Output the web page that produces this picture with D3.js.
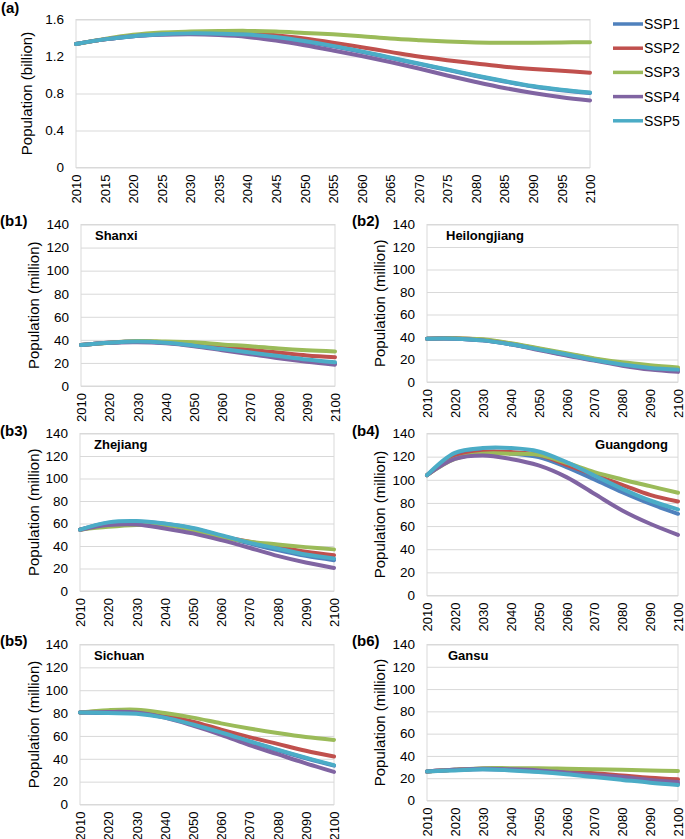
<!DOCTYPE html>
<html>
<head>
<meta charset="utf-8">
<style>
  body { margin: 0; background: #fff; }
  svg { display: block; font-family: "Liberation Sans", Arial, sans-serif; }
</style>
<script src="https://cdn.jsdelivr.net/npm/d3@7"></script>
</head>
<body>
<svg width="685" height="839"></svg>
<script>

var scenarios = ["SSP1", "SSP2", "SSP3", "SSP4", "SSP5"];
var colors = ["#4F81BD", "#C0504D", "#9BBB59", "#8064A2", "#4BACC6"];

var yearsA = [2010, 2015, 2020, 2025, 2030, 2035, 2040, 2045, 2050, 2055,
              2060, 2065, 2070, 2075, 2080, 2085, 2090, 2095, 2100];
var yearsB = [2010, 2020, 2030, 2040, 2050, 2060, 2070, 2080, 2090, 2100];
var ticksA = [0, 0.4, 0.8, 1.2, 1.6];
var ticksB = [0, 20, 40, 60, 80, 100, 120, 140];

// China, billion (SSP1..SSP5)
var china = [
  [1.335,1.385,1.42,1.44,1.445,1.443,1.432,1.405,1.36,1.31,1.25,1.185,1.12,1.055,0.99,0.93,0.875,0.835,0.805],
  [1.335,1.385,1.425,1.45,1.46,1.46,1.452,1.43,1.395,1.35,1.30,1.25,1.20,1.16,1.125,1.09,1.065,1.045,1.025],
  [1.335,1.39,1.435,1.46,1.47,1.475,1.477,1.47,1.455,1.44,1.42,1.395,1.377,1.362,1.352,1.348,1.349,1.352,1.355],
  [1.335,1.385,1.42,1.435,1.44,1.432,1.412,1.372,1.322,1.265,1.205,1.14,1.07,0.995,0.925,0.86,0.805,0.76,0.725],
  [1.335,1.385,1.42,1.44,1.45,1.447,1.437,1.41,1.367,1.315,1.255,1.19,1.125,1.06,0.995,0.935,0.88,0.84,0.81]
];

// provinces, million (SSP1..SSP5)
var shanxi = [
  [35.5,37.5,38.5,37.5,35,32,28.5,25,22,19.5],
  [35.5,37.5,38.5,38,36.5,34,31.5,29,26.5,25],
  [35.5,37.5,39,38.5,38,36,34.5,32.5,31,30],
  [35.5,37.5,38,37,34.5,31,27.5,24,21,18.5],
  [35.5,37.5,38.5,37.5,35,32,29,26,23,20.5]
];
var heilongjiang = [
  [38.5,38.5,37,33.5,29,24,19.5,15.5,12,10],
  [38.5,39,37.5,34,29.5,25,20.5,16.5,13.5,11.5],
  [38.5,39,38,34.5,30,25.5,21,17.5,15,13],
  [38.5,38.5,37,33.5,28.5,23.5,19,14.5,11,9],
  [38.5,38.5,37,33.5,29,24.5,19.5,15.5,12.5,11]
];
var zhejiang = [
  [54.5,60.4,61.6,59.8,55.6,49,42.3,36.3,31.2,27.4],
  [54.5,59,59.8,59,55,48.8,43.8,39.3,34.8,31.8],
  [54.5,57,58.6,58.6,54,48,43.8,41.4,39,37],
  [54.5,58.6,59.2,55.6,51.2,45.2,38.4,31.2,25.3,20.5],
  [54.5,61,62.2,60,56,49.7,43,37.8,32.4,28.9]
];
var guangdong = [
  [104,121,124.5,122.8,119.6,111,100.3,89.3,79.3,70.6],
  [104,119.6,124,124,121.6,113,104.3,95.7,87,81.3],
  [104,118,122.5,122.5,121.6,114.7,106.6,100.3,94.5,88.8],
  [104,118,121,118,112.4,102.3,87.9,73.5,62,52.4],
  [104,123.3,127.4,127.4,124.5,115.3,103.7,92.2,82.1,74.4]
];
var sichuan = [
  [80.5,80,80,76.5,70,62.5,55,47.5,40.5,34],
  [80.5,81.5,81,78,72.5,65.5,59,53,47,42],
  [80.5,82.5,83,80,76,71,66.5,62.5,59,56.5],
  [80.5,81,80.5,76,69,61,52,44,36,28.5],
  [80.5,80,79.5,76,70,63,55.5,48,41,34.5]
];
var gansu = [
  [26,27.5,28,27.5,26,24.5,22,19.5,17,15],
  [26,27.5,28.5,28,27,26,24.5,22.5,20.5,19],
  [26,27.5,29,29,29,28.5,28,27.5,27,26.5],
  [26,27.5,28.5,28,27,25,23,21,18.5,16.5],
  [26,27,28,27,25.5,23.5,21,18.5,16,14]
];

var svg = d3.select("svg");

function drawPanel(p) {
  var x = d3.scaleLinear().domain([2010, 2100]).range([p.x0, p.x1]);
  var y = d3.scaleLinear().domain([0, p.max]).range([p.yb, p.yt]);
  var g = svg.append("g");
  var w = p.x1 - p.x0;

  // gridlines
  g.append("g")
      .attr("transform", "translate(" + p.x0 + ",0)")
      .call(d3.axisLeft(y).tickValues(p.ticks).tickSize(-w).tickFormat(""))
      .call(function(s) { s.select(".domain").remove(); })
      .selectAll("line").attr("stroke", "#d9d9d9");

  g.append("rect")
      .attr("x", p.x0).attr("y", p.yt)
      .attr("width", w).attr("height", p.yb - p.yt)
      .attr("fill", "none").attr("stroke", "#d9d9d9");

  // y tick labels
  g.append("g")
      .attr("transform", "translate(" + p.x0 + ",0)")
      .call(d3.axisLeft(y).tickValues(p.ticks).tickSize(0).tickPadding(12).tickFormat(p.fmt))
      .call(function(s) { s.select(".domain").remove(); })
      .selectAll("text")
      .attr("font-size", 13.5).attr("font-family", null).attr("fill", "#000");

  // x tick labels, rotated
  g.append("g")
      .attr("transform", "translate(0," + p.yb + ")")
      .call(d3.axisBottom(x).tickValues(p.xticks).tickSize(0).tickFormat(d3.format("d")))
      .call(function(s) { s.select(".domain").remove(); })
      .selectAll("text")
      .attr("font-size", 13).attr("font-family", null).attr("fill", "#000")
      .attr("transform", "rotate(-90)")
      .attr("x", -7).attr("y", 0).attr("dy", "0.35em")
      .attr("text-anchor", "end");

  // y title
  g.append("text")
      .attr("transform", "translate(" + p.tx + "," + ((p.yt + p.yb) / 2) + ") rotate(-90)")
      .attr("text-anchor", "middle")
      .attr("dy", "0.35em")
      .attr("font-size", 15)
      .text(p.title);

  // panel tag
  g.append("text")
      .attr("x", p.lx).attr("y", p.ly)
      .attr("font-size", 15).attr("font-weight", "bold")
      .text(p.tag);

  if (p.name) {
    g.append("text")
        .attr("x", p.nx).attr("y", p.yt + 15.5)
        .attr("text-anchor", p.anchor)
        .attr("font-size", 13).attr("font-weight", "bold")
        .text(p.name);
  }

  var line = d3.line()
      .x(function(d, i) { return x(p.years[i]); })
      .y(function(d) { return y(d); })
      .curve(d3.curveCatmullRom);

  g.selectAll(".series")
    .data(p.data)
    .enter().append("path")
      .attr("class", "series")
      .attr("d", line)
      .attr("fill", "none")
      .attr("stroke", function(d, i) { return colors[i]; })
      .attr("stroke-width", 4)
      .attr("stroke-linecap", "round");
}

drawPanel({tag: "(a)", lx: 1, ly: 13, data: china, years: yearsA, xticks: yearsA,
  max: 1.6, ticks: ticksA, fmt: function(d) { return d === 0 ? "0" : d3.format(".1f")(d); },
  x0: 76, x1: 590, yt: 19.5, yb: 167.5, tx: 27, title: "Population (billion)"});

var fmtB = d3.format("d");
var titleB = "Population (million)";
[
  {tag: "(b1)", lx: 0, ly: 226, name: "Shanxi", nx: 95, anchor: "start", data: shanxi,
   x0: 81, x1: 335, yt: 224.5, yb: 386, tx: 34},
  {tag: "(b2)", lx: 352, ly: 226, name: "Heilongjiang", nx: 446, anchor: "start", data: heilongjiang,
   x0: 427, x1: 678, yt: 224.5, yb: 382, tx: 380},
  {tag: "(b3)", lx: 0, ly: 436, name: "Zhejiang", nx: 94, anchor: "start", data: zhejiang,
   x0: 80, x1: 334, yt: 433.5, yb: 591, tx: 34},
  {tag: "(b4)", lx: 352, ly: 436, name: "Guangdong", nx: 668, anchor: "end", data: guangdong,
   x0: 427, x1: 678, yt: 433.5, yb: 595.5, tx: 380},
  {tag: "(b5)", lx: 0, ly: 646, name: "Sichuan", nx: 94, anchor: "start", data: sichuan,
   x0: 80, x1: 334, yt: 644.5, yb: 804.5, tx: 34},
  {tag: "(b6)", lx: 352, ly: 646, name: "Gansu", nx: 448, anchor: "start", data: gansu,
   x0: 427, x1: 678, yt: 644.5, yb: 800.5, tx: 380}
].forEach(function(p) {
  p.years = yearsB; p.xticks = yearsB; p.max = 140; p.ticks = ticksB;
  p.fmt = fmtB; p.title = titleB;
  drawPanel(p);
});

// legend
var legend = svg.append("g").attr("transform", "translate(613,24)");
var item = legend.selectAll("g")
  .data(scenarios)
  .enter().append("g")
    .attr("transform", function(d, i) { return "translate(0," + (i * 24.2) + ")"; });
item.append("line")
    .attr("x1", 0).attr("x2", 30)
    .attr("stroke", function(d, i) { return colors[i]; })
    .attr("stroke-width", 3.5);
item.append("text")
    .attr("x", 31).attr("dy", "0.35em")
    .attr("font-size", 14)
    .text(function(d) { return d; });

</script>
</body>
</html>
